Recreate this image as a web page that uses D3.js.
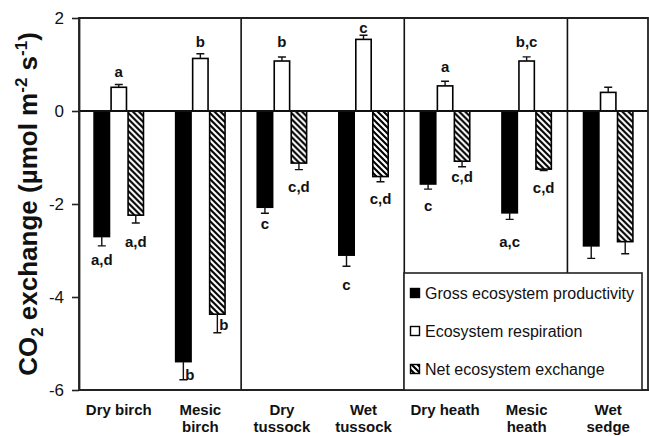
<!DOCTYPE html>
<html><head><meta charset="utf-8">
<script src="https://cdn.jsdelivr.net/npm/d3@7"></script>
<style>
html,body{margin:0;padding:0;background:#fff;}
svg{display:block;font-family:"Liberation Sans",Arial,sans-serif;}
</style></head>
<body>
<svg id="chart" width="649" height="436"></svg>
<script>
// ---- data ----
const categories = ["Dry birch","Mesic birch","Dry tussock","Wet tussock","Dry heath","Mesic heath","Wet sedge"];
const categoryLines = [["Dry birch"],["Mesic","birch"],["Dry","tussock"],["Wet","tussock"],["Dry heath"],["Mesic","heath"],["Wet","sedge"]];
const seriesNames = ["Gross ecosystem productivity","Ecosystem respiration","Net ecosystem exchange"];
const gep    = [-2.70,-5.39,-2.07,-3.10,-1.57,-2.19,-2.90];
const gepErr = [0.20,0.39,0.13,0.24,0.11,0.14,0.27];
const er     = [0.51,1.13,1.075,1.54,0.54,1.075,0.40];
const erErr  = [0.06,0.10,0.085,0.09,0.10,0.09,0.11];
const nee    = [-2.24,-4.37,-1.12,-1.41,-1.08,-1.25,-2.81];
const neeErr = [0.17,0.40,0.14,0.11,0.12,0.03,0.26];
const gepLetters = ["a,d","b","c","c","c","a,c",""];
const erLetters  = ["a","b","b","c","a","b,c",""];
const neeLetters = ["a,d","b","c,d","c,d","c,d","c,d",""];
const gepLetterAt = [-3.20,-5.68,-2.43,-3.74,-2.04,-2.82,null];
const erLetterAt  = [0.84,1.48,1.48,1.78,0.95,1.48,null];
const neeLetterAt = [-2.82,-4.60,-1.63,-1.89,-1.42,-1.66,null];
const yTicks = [2,0,-2,-4,-6];
const groupDividers = [2,4,6]; // divider after n-th group

// ---- layout ----
const svg = d3.select("#chart");
const L = 79, T = 18, R = 648, B = 390;
const y = d3.scaleLinear().domain([-6,2]).range([B,T]);
const x0 = d3.scaleBand().domain(categories).range([78,649]).paddingInner(0.375).paddingOuter(0.1875);
const x1 = d3.scaleBand().domain(seriesNames).range([0,x0.bandwidth()]).padding(0);

const defs = svg.append("defs");
const pat = defs.append("pattern").attr("id","hatch").attr("patternUnits","userSpaceOnUse")
  .attr("width",6).attr("height",6);
pat.append("rect").attr("width",6).attr("height",6).attr("fill","#fff");
pat.append("path").attr("d","M-1.5,4.5 L1.5,7.5 M0,0 L6,6 M4.5,-1.5 L7.5,1.5")
  .attr("stroke","#000").attr("stroke-width",2.1);

const fills = ["#000","#fff","url(#hatch)"];
const rows = categories.map((c,i)=>({
  cat:c, i,
  vals:[
    {s:seriesNames[0], v:gep[i], e:gepErr[i], lab:gepLetters[i], at:gepLetterAt[i], k:0},
    {s:seriesNames[1], v:er[i],  e:erErr[i],  lab:erLetters[i],  at:erLetterAt[i],  k:1},
    {s:seriesNames[2], v:nee[i], e:neeErr[i], lab:neeLetters[i], at:neeLetterAt[i], k:2}
  ]
}));

// group dividers
groupDividers.forEach(n=>{
  const xx = x0(categories[n-1]) + x0.bandwidth() + x0.step()*x0.paddingInner()/2;
  svg.append("line").attr("x1",xx).attr("x2",xx).attr("y1",T).attr("y2",B)
    .attr("stroke","#111").attr("stroke-width",1.6);
});

// bars
const g = svg.append("g").selectAll("g").data(rows).join("g")
  .attr("transform",d=>`translate(${x0(d.cat)},0)`);
g.selectAll("rect").data(d=>d.vals).join("rect")
  .attr("x",d=>x1(d.s)+0.8).attr("width",x1.bandwidth()-1.6)
  .attr("y",d=>y(Math.max(0,d.v))).attr("height",d=>Math.abs(y(d.v)-y(0)))
  .attr("fill",d=>fills[d.k]).attr("stroke","#000").attr("stroke-width",1.6);

// error bars
g.selectAll("path.err").data(d=>d.vals).join("path").attr("class","err")
  .attr("d",d=>{
    const cx = x1(d.s)+x1.bandwidth()/2;
    const y1 = y(d.v), y2 = y(d.v + Math.sign(d.v)*d.e);
    return `M${cx},${y1}V${y2}M${cx-4},${y2}H${cx+4}`;
  }).attr("stroke","#111").attr("stroke-width",1.4).attr("fill","none");

// letters
g.selectAll("text.lab").data(d=>d.vals.filter(v=>v.lab)).join("text").attr("class","lab")
  .each(function(d){
    const cx = x1(d.s)+x1.bandwidth()/2;
    const end = d.v + Math.sign(d.v)*d.e;
    const beside = Math.abs(d.at) < Math.abs(end);
    d3.select(this)
      .attr("x", beside ? cx+2 : cx)
      .attr("text-anchor", beside ? "start" : "middle");
  })
  .attr("y",d=>y(d.at)).attr("dy","0.35em")
  .attr("font-size",15).attr("font-weight","bold").attr("fill","#111")
  .text(d=>d.lab);

// zero line
svg.append("line").attr("x1",L).attr("x2",R).attr("y1",y(0)).attr("y2",y(0))
  .attr("stroke","#111").attr("stroke-width",1.8);

// frame
svg.append("path").attr("d",`M${L},${B}V${T}H${R}V${B}`).attr("fill","none")
  .attr("stroke","#222").attr("stroke-width",1.8);
svg.append("line").attr("x1",L).attr("x2",649).attr("y1",B).attr("y2",B)
  .attr("stroke","#222").attr("stroke-width",2);

// y axis
const ya = svg.append("g").attr("transform",`translate(${L},0)`)
  .call(d3.axisLeft(y).tickValues(yTicks).tickFormat(d3.format("d")).tickSize(7).tickSizeOuter(0).tickPadding(8));
ya.select(".domain").attr("stroke","#222").attr("stroke-width",1.8);
ya.selectAll(".tick line").attr("stroke","#222").attr("stroke-width",1.6);
ya.selectAll(".tick text").attr("font-size",17).attr("fill","#111")
  .attr("font-family","'Liberation Sans',Arial,sans-serif")
  .text(d=> d<0 ? "-"+Math.abs(d) : d);

// x labels
const xl = svg.append("g").selectAll("text").data(categories).join("text")
  .attr("x",d=>x0(d)+x0.bandwidth()/2).attr("y",415)
  .attr("text-anchor","middle").attr("font-size",15).attr("font-weight","bold").attr("fill","#111");
xl.selectAll("tspan").data((d,i)=>categoryLines[i]).join("tspan")
  .attr("x",function(){return d3.select(this.parentNode).attr("x");})
  .attr("dy",(d,i)=> i===0 ? 0 : 17).text(d=>d);

// y title
const yt = svg.append("text").attr("transform","translate(37,204) rotate(-90)")
  .attr("text-anchor","middle").attr("font-size",26).attr("font-weight","bold").attr("fill","#111");
yt.append("tspan").text("CO");
yt.append("tspan").attr("font-size",17).attr("dy",6).text("2");
yt.append("tspan").attr("dy",-6).text(" exchange (µmol m");
yt.append("tspan").attr("font-size",17).attr("dy",-10).text("-2");
yt.append("tspan").attr("dy",10).text(" s");
yt.append("tspan").attr("font-size",17).attr("dy",-10).text("-1");
yt.append("tspan").attr("dy",10).text(")");

// legend
const lg = svg.append("g");
lg.append("rect").attr("x",404).attr("y",273).attr("width",238).attr("height",B-273)
  .attr("fill","#fff").attr("stroke","#222").attr("stroke-width",1.6);
const li = lg.selectAll("g").data(seriesNames).join("g")
  .attr("transform",(d,i)=>`translate(410,${293+i*38})`);
li.append("rect").attr("x",0.5).attr("y",-4.5).attr("width",9).attr("height",9)
  .attr("fill",(d,i)=>fills[i]).attr("stroke","#000").attr("stroke-width",1.4);
li.append("text").attr("x",15).attr("y",0).attr("dy","0.35em").attr("font-size",16)
  .attr("fill","#111").text(d=>d);
</script>
</body></html>
